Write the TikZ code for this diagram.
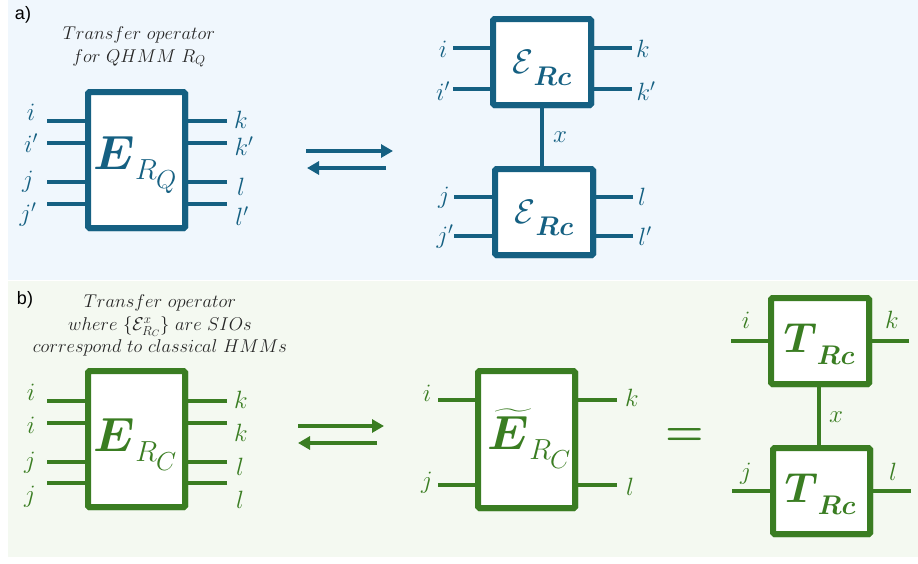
\RequirePackage{fix-cm}
\documentclass[tikz,border=0pt]{standalone}
\usepackage{amsmath,bm}
\usepackage{fontspec}
\newfontfamily\panelfont{Liberation Sans}
\usetikzlibrary{arrows.meta}
\definecolor{qblue}{HTML}{156082}
\definecolor{cgreen}{HTML}{3A7D22}
\definecolor{bgblue}{HTML}{F0F7FD}
\definecolor{bggreen}{HTML}{F4F9F1}
\definecolor{ttext}{HTML}{262626}
\tikzset{
  opbox/.style={draw, line width=6pt, fill=white, rounded corners=1.5pt, inner sep=0pt, outer sep=0pt},
  bigbox/.style={opbox, minimum width=97pt, minimum height=136pt},
  smallbox/.style={opbox, minimum width=98pt, minimum height=86pt},
  wire/.style={line width=4pt},
  lbl/.style={font=\fontsize{25}{25}\selectfont, inner sep=0pt},
  ttl/.style={font=\fontsize{18.5}{22.5}\selectfont, text=ttext, align=center, inner sep=0pt},
  panel/.style={font=\panelfont\fontsize{18}{18}\selectfont, inner sep=0pt},
  arr/.style={line width=4pt, -{Triangle[length=12pt,width=13pt]}},
}
\newcommand{\bigE}[2]{{\fontsize{48}{48}\selectfont$#1$}\raisebox{-10pt}{\fontsize{29}{29}\selectfont$R$}\raisebox{-19pt}{\fontsize{26}{26}\selectfont$\kern-1pt #2$}}
\newcommand{\smallE}[2]{{\fontsize{#2}{#2}\selectfont$#1$}\raisebox{-12pt}{\fontsize{27}{27}\selectfont$\boldsymbol{R}\boldsymbol{c}$}}
\begin{document}
\begin{tikzpicture}[x=1pt,y=-1pt]
\useasboundingbox (0,0) rectangle (918,563);
\fill[bgblue] (8,0) rectangle (918,280);
\fill[bggreen] (8,281) rectangle (918,557);

% ---------- panel a ----------
\node[panel] (pa) at (23,15) {a)};
\node[ttl] (ta) at (139,47) {$Transfer\ operator$\\$for\ QHMM\ R_Q$};

\begin{scope}[qblue]
\node[bigbox] (EA) at (136.5,160) {};
\foreach \n/\y in {1/121,2/143,3/182,4/204}{
  \coordinate (al\n) at (47,\y);
  \coordinate (ar\n) at (227,\y);
  \draw[wire] (al\n) -- (al\n -| EA.west);
  \draw[wire] (ar\n) -- (ar\n -| EA.east);
}
\node[bigbox] (EA) at (136.5,160) {};
\node[text=qblue, inner sep=0pt] (EAt) at (135,165) {\bigE{\boldsymbol{E}}{Q}};
\node[lbl] (la1) at (31,112) {$i$};
\node[lbl] (la2) at (31,143) {$i'$};
\node[lbl] (la3) at (28,182) {$j$};
\node[lbl] (la4) at (28,215) {$j'$};
\node[lbl] (ra1) at (241,120) {$k$};
\node[lbl] (ra2) at (244,146) {$k'$};
\node[lbl] (ra3) at (241,187) {$l$};
\node[lbl] (ra4) at (242,216) {$l'$};

\coordinate (a1s) at (306,151); \coordinate (a1e) at (393,151);
\coordinate (a2s) at (386,168); \coordinate (a2e) at (307,168);
\draw[arr] (a1s) -- (a1e);
\draw[arr] (a2s) -- (a2e);

\coordinate (tl1) at (453,48); \coordinate (tl2) at (453,89);
\coordinate (tr1) at (632,48); \coordinate (tr2) at (632,89);
\coordinate (bl1) at (454,197); \coordinate (bl2) at (454,236);
\coordinate (br1) at (633,197); \coordinate (br2) at (633,236);
\node[smallbox] (ET) at (542,62) {};
\node[smallbox] (EB) at (544,212) {};
\foreach \n in {1,2}{
  \draw[wire] (tl\n) -- (tl\n -| ET.west);
  \draw[wire] (tr\n) -- (tr\n -| ET.east);
  \draw[wire] (bl\n) -- (bl\n -| EB.west);
  \draw[wire] (br\n) -- (br\n -| EB.east);
}
\draw[wire] (ET.south) -- (ET.south |- EB.north);
\node[smallbox] (ET) at (542,62) {};
\node[smallbox] (EB) at (544,212) {};
\node[inner sep=0pt] (ETt) at (542,68) {\smallE{\mathcal{E}}{34}};
\node[inner sep=0pt] (EBt) at (544,218) {\smallE{\mathcal{E}}{34}};
\node[lbl] (lt1) at (443,49) {$i$};
\node[lbl] (lt2) at (443,91) {$i'$};
\node[lbl] (rt1) at (643,49) {$k$};
\node[lbl] (rt2) at (646,91) {$k'$};
\node[lbl] (lb1) at (444,198) {$j$};
\node[lbl] (lb2) at (445,237) {$j'$};
\node[lbl] (rb1) at (642,197) {$l$};
\node[lbl] (rb2) at (645,236) {$l'$};
\node[lbl] (xa) at (560,137) {$x$};
\end{scope}

% ---------- panel b ----------
\node[panel] (pb) at (25,300) {b)};
\node[ttl] (tb) at (160,325.5) {$Transfer\ operator$\\$where\ \{\mathcal{E}_{R_C}^{x}\}\ are\ SIOs$\\$correspond\ to\ classical\ HMMs$};

\begin{scope}[cgreen]
\node[bigbox] (EC) at (136.5,439) {};
\foreach \n/\y in {1/401,2/423,3/462,4/483}{
  \coordinate (cl\n) at (47,\y);
  \coordinate (cr\n) at (227,\y);
  \draw[wire] (cl\n) -- (cl\n -| EC.west);
  \draw[wire] (cr\n) -- (cr\n -| EC.east);
}
\node[bigbox] (EC) at (136.5,439) {};
\node[text=cgreen, inner sep=0pt] (ECt) at (135,445) {\bigE{\boldsymbol{E}}{C}};
\node[lbl] (lc1) at (31,392) {$i$};
\node[lbl] (lc2) at (31,425) {$i$};
\node[lbl] (lc3) at (30,463) {$j$};
\node[lbl] (lc4) at (30,497) {$j$};
\node[lbl] (rc1) at (241,400) {$k$};
\node[lbl] (rc2) at (241,433) {$k$};
\node[lbl] (rc3) at (240,467) {$l$};
\node[lbl] (rc4) at (240,500) {$l$};

\coordinate (b1s) at (298,426); \coordinate (b1e) at (384,426);
\coordinate (b2s) at (377,443); \coordinate (b2e) at (298,443);
\draw[arr] (b1s) -- (b1e);
\draw[arr] (b2s) -- (b2e);

\node[bigbox, minimum height=137pt] (EM) at (526.5,439.5) {};
\coordinate (ml1) at (438,400); \coordinate (ml2) at (438,485);
\coordinate (mr1) at (617,400); \coordinate (mr2) at (617,485);
\foreach \n in {1,2}{
  \draw[wire] (ml\n) -- (ml\n -| EM.west);
  \draw[wire] (mr\n) -- (mr\n -| EM.east);
}
\node[bigbox, minimum height=137pt] (EM) at (526.5,439.5) {};
\node[text=cgreen, inner sep=0pt] (EMt) at (529,439) {\bigE{\boldsymbol{\widetilde{E}}}{C}};
\node[lbl] (lm1) at (427,393) {$i$};
\node[lbl] (lm2) at (427,483) {$j$};
\node[lbl] (rm1) at (632,398) {$k$};
\node[lbl] (rm2) at (630,487) {$l$};

\node[inner sep=0pt, font=\fontsize{44}{44}\selectfont\bfseries] (eq) at (685,437) {=};

\node[smallbox] (TT) at (820,341) {};
\node[smallbox, minimum width=97pt] (TB) at (821.5,491) {};
\coordinate (ttl1) at (731,341); \coordinate (ttr1) at (909,341);
\coordinate (tbl1) at (732,491); \coordinate (tbr1) at (911,491);
\draw[wire] (ttl1) -- (ttl1 -| TT.west);
\draw[wire] (ttr1) -- (ttr1 -| TT.east);
\draw[wire] (tbl1) -- (tbl1 -| TB.west);
\draw[wire] (tbr1) -- (tbr1 -| TB.east);
\coordinate (vt) at (819,387);
\draw[wire] (vt) -- (vt |- TB.north);
\node[smallbox] (TT) at (820,341) {};
\node[smallbox, minimum width=97pt] (TB) at (821.5,491) {};
\node[inner sep=0pt] (TTt) at (819,344) {\smallE{\boldsymbol{T}}{42}};
\node[inner sep=0pt] (TBt) at (820,494) {\smallE{\boldsymbol{T}}{42}};
\node[lbl] (lr1) at (746,320) {$i$};
\node[lbl] (rr1) at (892,320) {$k$};
\node[lbl] (lr2) at (746,474) {$j$};
\node[lbl] (rr2) at (893,472) {$l$};
\node[lbl] (xb) at (836,417) {$x$};
\end{scope}
\end{tikzpicture}
\end{document}
